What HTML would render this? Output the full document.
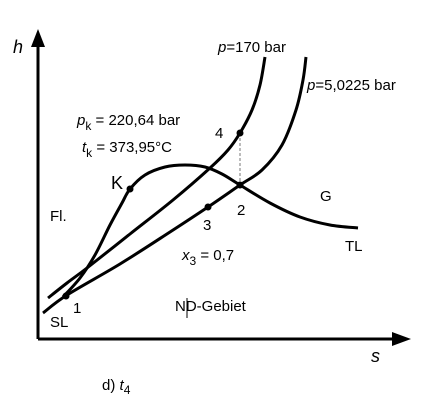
<!DOCTYPE html>
<html><head><meta charset="utf-8"><style>
body{margin:0;background:#fff;}
svg{display:block;font-family:"Liberation Sans",sans-serif;}
text{font-size:15px;fill:#000;}
</style></head><body>
<svg id="c" width="436" height="402">
<line x1="38" y1="339" x2="38" y2="44" stroke="#000" stroke-width="3"/>
<polygon points="38,29 31,47 45,47" fill="#000"/>
<line x1="38" y1="339" x2="396" y2="339" stroke="#000" stroke-width="3"/>
<polygon points="411,339 392,332 392,346" fill="#000"/>
<text x="13" y="53" font-style="italic" style="font-size:18px">h</text>
<text x="371" y="362" font-style="italic" style="font-size:18px">s</text>
<g id="curves"></g>
<text x="218" y="52"><tspan font-style="italic">p</tspan>=170 bar</text>
<text x="307" y="90"><tspan font-style="italic">p</tspan>=5,0225 bar</text>
<text x="77" y="125"><tspan font-style="italic">p</tspan><tspan dy="5" style="font-size:12px">k</tspan><tspan dy="-5"> = 220,64 bar</tspan></text>
<text x="82" y="152"><tspan font-style="italic">t</tspan><tspan dy="5" style="font-size:12px">k</tspan><tspan dy="-5"> = 373,95°C</tspan></text>
<text x="111" y="189" style="font-size:18px">K</text>
<text x="215" y="138">4</text>
<text x="320" y="201">G</text>
<text x="237" y="215">2</text>
<text x="203" y="230">3</text>
<text x="50" y="221">Fl.</text>
<text x="345" y="251">TL</text>
<text x="182" y="260"><tspan font-style="italic">x</tspan><tspan dy="5" style="font-size:12px">3</tspan><tspan dy="-5"> = 0,7</tspan></text>
<text x="175" y="311">ND-Gebiet</text>
<line x1="187" y1="298" x2="187" y2="318" stroke="#000" stroke-width="1"/>
<text x="50" y="327">SL</text>
<text x="73" y="313">1</text>
<text x="102" y="390">d) <tspan font-style="italic">t</tspan><tspan dy="4" style="font-size:12px">4</tspan></text>
</svg>
<script>
const domeS=[25,42,57,72,84,92,107,127,147,167,184,202,232,262,292,320];
const domeH=[42,61,84,114,136,150,164,172,174,172,165,154,136,122,114,111];
const highS=[10,29,49,92,135,172,190,202,214,222,227];
const highH=[41,56,71,105,139,171,189,206,229,254,282];
const lowS=[5,29,82,132,170,202,224,244,258,265,268];
const lowH=[26,44,75,107,132,154,169,194,229,259,282];
const pointNames=['1','K','2','3','4'];
const pointS=[28,92,202,170,202];
const pointH=[43,150,154,132,206];
function xS(s){return 38+s;}
function yH(h){return 339-h;}
const NS='http://www.w3.org/2000/svg';
const g=document.getElementById('curves');
function smooth(S,H){
  const p=S.map((s,i)=>[xS(s),yH(H[i])]);
  let d='M'+p[0][0]+','+p[0][1];
  for(let i=0;i<p.length-1;i++){
    const p0=p[i-1]||p[i],p1=p[i],p2=p[i+1],p3=p[i+2]||p2;
    const c1=[p1[0]+(p2[0]-p0[0])/6,p1[1]+(p2[1]-p0[1])/6];
    const c2=[p2[0]-(p3[0]-p1[0])/6,p2[1]-(p3[1]-p1[1])/6];
    d+=' C'+c1+' '+c2+' '+p2;
  }
  return d;
}
const dl=document.createElementNS(NS,'line');
dl.setAttribute('x1',xS(pointS[4]));dl.setAttribute('y1',yH(pointH[4]));
dl.setAttribute('x2',xS(pointS[2]));dl.setAttribute('y2',yH(pointH[2]));
dl.setAttribute('stroke','#777');dl.setAttribute('stroke-dasharray','3,2');


g.appendChild(dl);
function curve(S,H){
  const p=document.createElementNS(NS,'path');
  p.setAttribute('d',smooth(S,H));p.setAttribute('fill','none');
  p.setAttribute('stroke','#000');p.setAttribute('stroke-width','3');
  g.appendChild(p);return p;
}
const c1=curve(domeS,domeH);


const c2=curve(highS,highH);


const c3=curve(lowS,lowH);


pointS.forEach((s,i)=>{
  const c=document.createElementNS(NS,'circle');
  c.setAttribute('cx',xS(s));c.setAttribute('cy',yH(pointH[i]));c.setAttribute('r',3.5);
  
  
  g.appendChild(c);
});
</script>
</body></html>
